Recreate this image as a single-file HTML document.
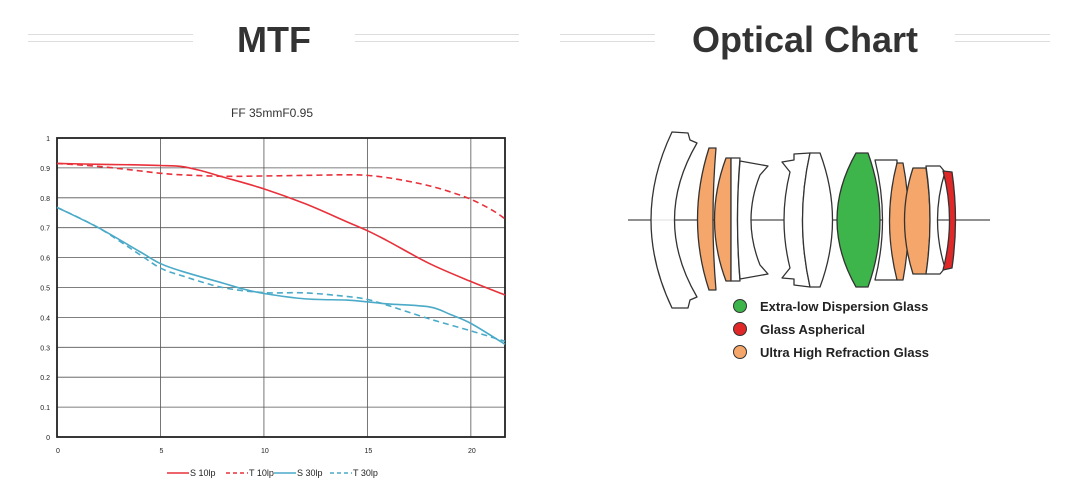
<!DOCTYPE html>
<html><head><meta charset="utf-8"><style>
body{margin:0;width:1076px;height:501px;background:#fff;overflow:hidden;font-family:"Liberation Sans",sans-serif}
svg{position:absolute;left:0;top:0}
</style></head><body>
<svg width="1076" height="501">
 <g>
  <line x1="28" y1="34.5" x2="193" y2="34.5" stroke="#ddd"/><line x1="28" y1="41.5" x2="193" y2="41.5" stroke="#ddd"/>
  <line x1="355" y1="34.5" x2="519" y2="34.5" stroke="#ddd"/><line x1="355" y1="41.5" x2="519" y2="41.5" stroke="#ddd"/>
  <text x="274" y="52" text-anchor="middle" font-size="36" font-weight="bold" fill="#333">MTF</text>
 </g>
 <g>
  <line x1="560" y1="34.5" x2="655" y2="34.5" stroke="#ddd"/><line x1="560" y1="41.5" x2="655" y2="41.5" stroke="#ddd"/>
  <line x1="955" y1="34.5" x2="1050" y2="34.5" stroke="#ddd"/><line x1="955" y1="41.5" x2="1050" y2="41.5" stroke="#ddd"/>
  <text x="805" y="52" text-anchor="middle" font-size="36" font-weight="bold" fill="#333">Optical Chart</text>
 </g>
 <g id="chart"></g>
 <g stroke="#333" stroke-width="1.3" stroke-linejoin="round">
  <line x1="628" y1="220" x2="990" y2="220" stroke="#222" stroke-width="1"/>
  <path fill="#fff" fill-opacity="0.85" d="M672,132 L688,133 L690,140 L697,143 Q652,220 697,297 L690,300 L688,308 L672,308 Q630,220 672,132Z"/>
  <path fill="#f5a66a" d="M709,148 L716,148 Q710,220 716,290 L709,290 Q686,220 709,148Z"/>
  <path fill="#f5a66a" d="M726,158 L731,158 L731,281 L726,281 Q703,220 726,158Z"/>
  <path fill="#fff" d="M731,158 L740,158 Q735,220 740,281 L731,281Z"/>
  <path fill="#fff" d="M740,161 L768,166 L760,175 Q742,220 760,265 L768,274 L740,279 Q735,220 740,161Z"/>
  <path fill="#fff" d="M794,160 L794,154 L810,153 Q795,220 810,287 L794,285 L794,279 L782,278 L790,268 Q778,220 790,172 L782,162Z"/>
  <path fill="#fff" d="M810,153 L820,153 Q845,220 820,287 L810,287 Q795,220 810,153Z"/>
  <path fill="#3db54a" d="M856,153 L868,153 Q892,220 868,287 L856,287 Q818,220 856,153Z"/>
  <path fill="#fff" d="M875,160 L897,160 L897,280 L875,280 Q890,220 875,160Z"/>
  <path fill="#f5a66a" d="M897,163 L903,163 Q914,220 903,280 L897,280 Q882,220 897,163Z"/>
  <path fill="#f5a66a" d="M913,168 L926,168 Q934,220 926,274 L913,274 Q896,220 913,168Z"/>
  <path fill="#fff" d="M926,166 L940,166 L945,172 Q930,220 945,268 L940,274 L926,274 Q934,220 926,166Z"/>
  <path fill="#e02828" d="M943,171 L952,172 Q959,220 952,268 L943,270 Q956,220 943,171Z"/>
 </g>
 <g font-size="13" font-weight="bold" fill="#222">
  <circle cx="740" cy="306" r="6.5" fill="#3db54a" stroke="#333"/><text x="760" y="311">Extra-low Dispersion Glass</text>
  <circle cx="740" cy="329" r="6.5" fill="#e02828" stroke="#333"/><text x="760" y="334">Glass Aspherical</text>
  <circle cx="740" cy="352" r="6.5" fill="#f5a66a" stroke="#333"/><text x="760" y="357">Ultra High Refraction Glass</text>
 </g>
</svg>
<script>
const xTicks=[0,5,10,15,20];
const yTicks=[0,0.1,0.2,0.3,0.4,0.5,0.6,0.7,0.8,0.9,1];
const yTickLabels=["0","0.1","0.2","0.3","0.4","0.5","0.6","0.7","0.8","0.9","1"];
const s10x=[0,2,4,5,6,7,8,10,12,14,15,16,18,20,21.65];
const s10y=[0.915,0.912,0.91,0.908,0.905,0.89,0.87,0.83,0.78,0.72,0.69,0.655,0.58,0.52,0.475];
const t10x=[0,2,4,5,6,8,10,12,14,15,16,17,18,19,20,21,21.65];
const t10y=[0.915,0.905,0.89,0.882,0.877,0.872,0.873,0.875,0.877,0.875,0.867,0.855,0.84,0.82,0.795,0.76,0.73];
const s30x=[0,2,4,5,6,8,9,10,12,14,15,16,18,19,20,21.65];
const s30y=[0.768,0.7,0.62,0.58,0.555,0.515,0.495,0.48,0.462,0.458,0.452,0.445,0.435,0.41,0.38,0.31];
const t30x=[0,2,4,5,6,8,10,12,14,15,16,18,20,21.65];
const t30y=[0.768,0.7,0.61,0.565,0.54,0.5,0.483,0.482,0.47,0.46,0.44,0.395,0.355,0.32];
const X0=57,X1=505,XMAX=21.65,Y0=437,Y1=138;
const sx=v=>X0+(X1-X0)*v/XMAX, sy=v=>Y0-(Y0-Y1)*v;
const NS="http://www.w3.org/2000/svg", g=document.getElementById('chart');
function mk(t,a){const e=document.createElementNS(NS,t);for(const k in a)e.setAttribute(k,a[k]);g.appendChild(e);return e;}
const title=mk('text',{x:272,y:117,'text-anchor':'middle','font-size':12,fill:'#333'});title.textContent='FF 35mmF0.95';


yTicks.forEach((v,i)=>{
 const l=mk('line',{x1:X0,x2:X1,y1:sy(v),y2:sy(v),stroke:'#555','stroke-width':0.8});
 
 
 const t=mk('text',{x:X0-7,y:sy(v)+3,'text-anchor':'end','font-size':7,fill:'#222'});t.textContent=yTickLabels[i];
 
 
});
xTicks.forEach(v=>{
 const l=mk('line',{x1:sx(v),x2:sx(v),y1:Y0,y2:Y1,stroke:'#555','stroke-width':0.8});
 
 
 const t=mk('text',{x:sx(v)+1,y:Y0+16,'text-anchor':'middle','font-size':7,fill:'#222'});t.textContent=String(v);
 
 
});
const fr=mk('rect',{x:X0,y:Y1,width:X1-X0,height:Y0-Y1,fill:'none',stroke:'#222','stroke-width':1.8});


function smooth(xs,ys){const p=xs.map((x,i)=>[sx(x),sy(ys[i])]);let d='M'+p[0][0]+','+p[0][1];
 for(let i=0;i<p.length-1;i++){const a=p[i-1]||p[i],b=p[i],c=p[i+1],e=p[i+2]||c;
  d+=` C${b[0]+(c[0]-a[0])/6},${b[1]+(c[1]-a[1])/6} ${c[0]-(e[0]-b[0])/6},${c[1]-(e[1]-b[1])/6} ${c[0]},${c[1]}`;}return d;}
const series=[[s10x,s10y,'#e8313a',null,'s10-line'],[t10x,t10y,'#e8313a','6,4','t10-line'],[s30x,s30y,'#4aaac8',null,'s30-line'],[t30x,t30y,'#4aaac8','6,4','t30-line']];
series.forEach(s=>{const a={d:smooth(s[0],s[1]),fill:'none',stroke:s[2],'stroke-width':1.6};if(s[3])a['stroke-dasharray']=s[3];
 const p=mk('path',a);
 
 });
const leg=[['S 10lp','#e8313a',null,167],['T 10lp','#e8313a','4,3',226],['S 30lp','#4aaac8',null,274],['T 30lp','#4aaac8','4,3',330]];
leg.forEach(l=>{const a={x1:l[3],x2:l[3]+22,y1:473,y2:473,stroke:l[1],'stroke-width':1.5};if(l[2])a['stroke-dasharray']=l[2];
 const ln=mk('line',a);
 
 
 const t=mk('text',{x:l[3]+23,y:476,'font-size':9,fill:'#222'});t.textContent=l[0];
 
 });
</script>
</body></html>
